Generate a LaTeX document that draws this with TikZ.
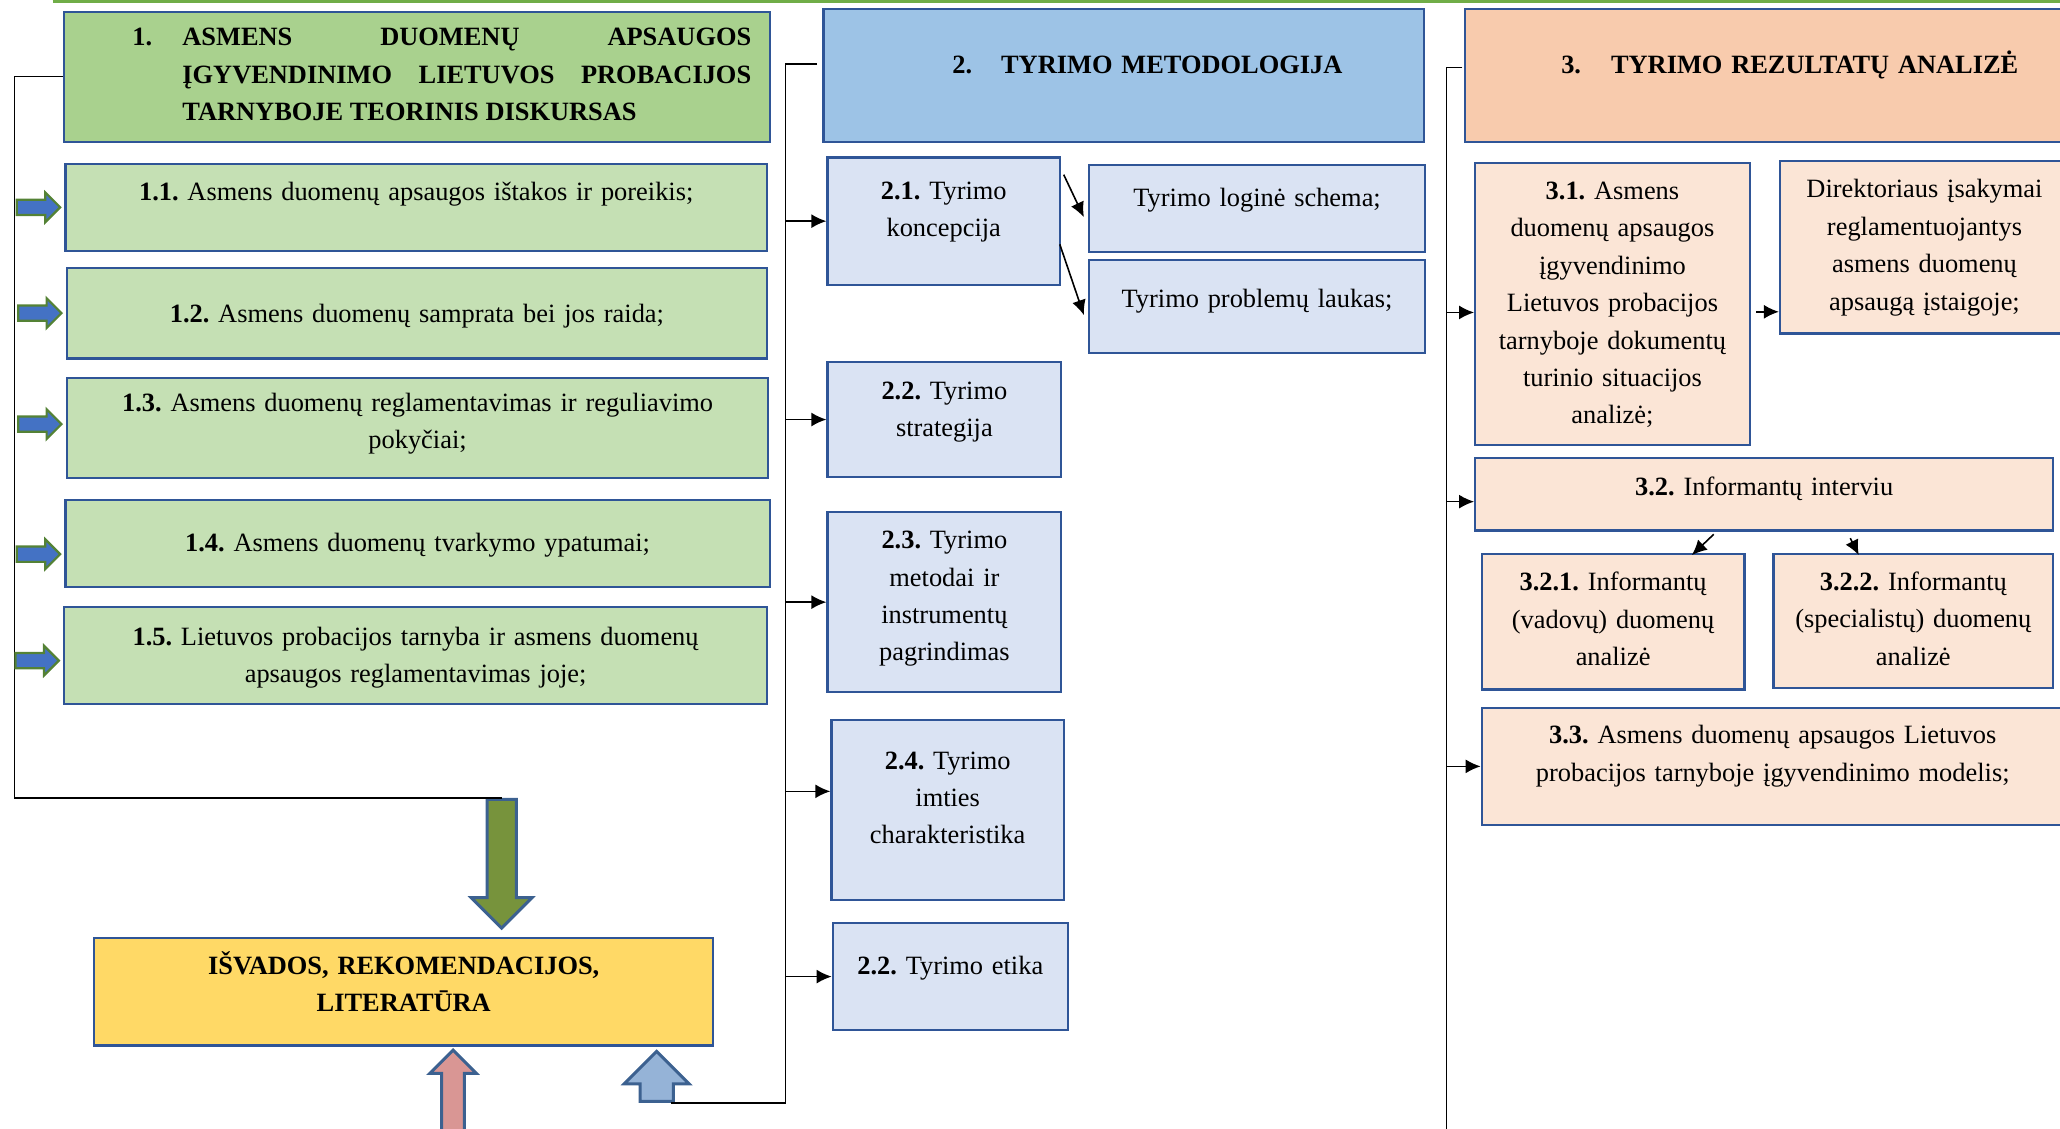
\documentclass[tikz,border=0pt]{standalone}
\usepackage{fontspec}
\setmainfont{Liberation Serif}
\usepackage{tikz}
\usetikzlibrary{arrows.meta,calc,shapes.arrows}

\definecolor{boxedge}{HTML}{2F5597}
\definecolor{headgreen}{HTML}{A9D18E}
\definecolor{subgreen}{HTML}{C5E0B4}
\definecolor{headblue}{HTML}{9DC3E6}
\definecolor{subblue}{HTML}{DAE3F3}
\definecolor{headpeach}{HTML}{F8CBAD}
\definecolor{subpeach}{HTML}{FBE5D6}
\definecolor{concyellow}{HTML}{FFD966}
\definecolor{arrgreen}{HTML}{548235}
\definecolor{arrblue}{HTML}{4472C4}
\definecolor{arredge}{HTML}{3C6190}
\definecolor{arrolive}{HTML}{77933C}
\definecolor{arrrose}{HTML}{D99694}
\definecolor{arrsky}{HTML}{95B3D7}
\definecolor{topgreen}{HTML}{70AD47}

\newlength{\pxu}
\setlength{\pxu}{0.6569pt}
\frenchspacing

\begin{document}
\begin{tikzpicture}[x=\pxu, y=-\pxu,
    cellbox/.style={draw=boxedge, line width=1.1pt, anchor=north west, align=center,
      inner sep=0pt, text height=14\pxu, font=\fontsize{13.2pt}{18.7pt}\selectfont},
    headbox/.style={cellbox, font=\fontsize{13.2pt}{18.7pt}\selectfont\bfseries},
    sz/.style n args={3}{minimum width=#1\pxu, text width=#1\pxu, minimum height=#2\pxu, text depth=#3\pxu},
    rail/.style={line width=0.8pt},
    >={Latex[length=7.5pt,width=7pt]},
    smallarrow/.style={single arrow, draw=arrgreen, fill=arrblue, line width=1.1pt, inner xsep=0pt,
      inner ysep=5\pxu, minimum height=33\pxu, single arrow head extend=5.5\pxu, anchor=tip},
    bigarrow/.style={single arrow, draw=arredge, line width=1.5pt, inner xsep=0pt, anchor=tip}
  ]
  \useasboundingbox (0,0) rectangle (1568,859);
  \draw[topgreen, line width=1.5pt] (40,1.5) -- (1575,1.5);

  % 1 -- teorinis diskursas
  \node[headbox, fill=headgreen, sz={537}{99}{61}, text width=509\pxu, align=left] (h1) at (48,8)
    {\hspace*{38\pxu}\makebox[38\pxu][l]{1.}\parbox[t]{433\pxu}{\spaceskip=0pt\xspaceskip=0pt
     ASMENS DUOMENŲ APSAUGOS\linebreak
     ĮGYVENDINIMO LIETUVOS PROBACIJOS\linebreak TARNYBOJE TEORINIS DISKURSAS}};
  \node[cellbox, fill=subgreen, sz={534}{66}{24}] (b11) at (49,124)
    {\textbf{1.1.} Asmens duomenų apsaugos ištakos ir poreikis;};
  \node[cellbox, fill=subgreen, sz={533}{69}{0}] (b12) at (50,203)
    {\textbf{1.2.} Asmens duomenų samprata bei jos raida;};
  \node[cellbox, fill=subgreen, sz={534}{76}{39.5}] (b13) at (50,287)
    {\textbf{1.3.} Asmens duomenų reglamentavimas ir reguliavimo\\pokyčiai;};
  \node[cellbox, fill=subgreen, sz={536}{66}{2}] (b14) at (49,380)
    {\textbf{1.4.} Asmens duomenų tvarkymo ypatumai;};
  \node[cellbox, fill=subgreen, sz={535}{74}{29.5}] (b15) at (48,461)
    {\textbf{1.5.} Lietuvos probacijos tarnyba ir asmens duomenų\\apsaugos reglamentavimas joje;};
  \node[headbox, fill=concyellow, sz={471}{82}{40.5}] (concl) at (71,713)
    {IŠVADOS, REKOMENDACIJOS,\\LITERATŪRA};

  % 2 -- metodologija
  \node[headbox, fill=headblue, sz={457}{101}{17}] (h2) at (626,6)
    {\hspace*{36\pxu}2.\hspace{14.5pt}TYRIMO METODOLOGIJA};
  \node[cellbox, fill=subblue, sz={177}{97}{47.5}] (b21) at (629,119) {\textbf{2.1.} Tyrimo\\koncepcija};
  \node[cellbox, fill=subblue, sz={256}{66}{18}] (b21a) at (828,125) {Tyrimo loginė schema;};
  \node[cellbox, fill=subblue, sz={256}{71}{13}] (b21b) at (828,197) {Tyrimo problemų laukas;};
  \node[cellbox, fill=subblue, sz={178}{87}{44.5}] (b22) at (629,275) {\textbf{2.2.} Tyrimo\\strategija};
  \node[cellbox, fill=subblue, sz={178}{137}{95.5}] (b23) at (629,389)
    {\textbf{2.3.} Tyrimo\\metodai ir\\instrumentų\\pagrindimas};
  \node[cellbox, fill=subblue, sz={177}{137}{76}] (b24) at (632,547)
    {\textbf{2.4.} Tyrimo\\imties\\charakteristika};
  \node[cellbox, fill=subblue, sz={179}{81}{17}] (b25) at (633,702) {\textbf{2.2.} Tyrimo etika};

  % 3 -- rezultatai
  \node[headbox, fill=headpeach, sz={470}{101}{17}] (h3) at (1114,6)
    {\hspace*{25\pxu}3.\hspace{15pt}TYRIMO REZULTATŲ ANALIZĖ};
  \node[cellbox, fill=subpeach, sz={209}{215}{173}] (b31) at (1122,123)
    {\textbf{3.1.} Asmens\\duomenų apsaugos\\įgyvendinimo\\Lietuvos probacijos\\tarnyboje dokumentų\\turinio situacijos\\analizė;};
  \node[cellbox, fill=subpeach, sz={220}{131}{89.5}] (b31a) at (1354,122)
    {Direktoriaus įsakymai\\reglamentuojantys\\asmens duomenų\\apsaugą įstaigoje;};
  \node[cellbox, fill=subpeach, sz={440}{55}{13}] (b32) at (1122,348) {\textbf{3.2.} Informantų interviu};
  \node[cellbox, fill=subpeach, sz={200}{103}{61}] (b321) at (1127,421)
    {\textbf{3.2.1.} Informantų\\(vadovų) duomenų\\analizė};
  \node[cellbox, fill=subpeach, sz={213}{102}{61}] (b322) at (1349,421)
    {\textbf{3.2.2.} Informantų\\(specialistų) duomenų\\analizė};
  \node[cellbox, fill=subpeach, sz={443}{89}{48.5}] (b33) at (1127,538)
    {\textbf{3.3.} Asmens duomenų apsaugos Lietuvos\\probacijos tarnyboje įgyvendinimo modelis;};

  % block arrows round the conclusions
  \node[bigarrow, fill=arrolive, rotate=-90, minimum height=98\pxu, inner ysep=10\pxu,
    single arrow head extend=12\pxu] (garr) at ($(concl.north)+(74.5,-5)$) {};
  \node[bigarrow, fill=arrrose, rotate=90, minimum height=66\pxu, inner ysep=7.5\pxu,
    single arrow head extend=9\pxu] (parr) at ($(concl.south)+(37.5,1)$) {};
  \node[bigarrow, fill=arrsky, rotate=90, minimum height=38\pxu, inner ysep=11.5\pxu,
    single arrow head extend=12\pxu] (barr) at ($(concl.south)+(192.5,2)$) {};

  % rails
  \coordinate (rail1) at (11,0);
  \coordinate (rail2) at (598,0);
  \coordinate (rail3) at (1101,862);
  \draw[rail] (h1.west) -- (h1.west -| rail1) |- (garr.tail);
  \draw[rail] ($(h2.west)+(-4,-8.5)$) -| (rail2 |- barr.tail) -- ($(barr.tail)+(11,0)$);
  \draw[rail] ($(h3.west)+(-1,-6)$) -| (rail3);

  \foreach \bx/\dy in {b11/0, b12/0, b13/-3, b14/8, b15/4}
    \node[smallarrow] (s\bx) at ($(\bx.west)+(-2,\dy)$) {};

  \path[->, rail]
    (b21.west -| rail2) edge (b21.west)
    (b22.west -| rail2) edge (b22.west)
    (b23.west -| rail2) edge (b23.west)
    ($(b24.west -| rail2)+(0,-14)$) edge ($(b24.west)+(0,-14)$)
    (b25.west -| rail2) edge (b25.west)
    ($(b21.north east)+(2,14)$) edge ($(b21a.west)+(-3,6.5)$)
    ($(b21.north east)+(-1,67)$) edge ($(b21b.west)+(-3,6.5)$)
    ($(b31.west -| rail3)+(0,6.5)$) edge ($(b31.west)+(0,6.5)$)
    ($(b32.west -| rail3)+(0,5.5)$) edge ($(b32.west)+(0,5.5)$)
    (b33.west -| rail3) edge (b33.west)
    ($(b31.east)+(4,6)$) edge ($(b31.east -| b31a.west)+(0,6)$)
    ($(b32.south)+(-38.4,2)$) edge ($(b321.north)+(60,1.5)$)
    ($(b32.south)+(65.5,5)$) edge ($(b322.north)+(-41.5,1.5)$);
\end{tikzpicture}
\end{document}
